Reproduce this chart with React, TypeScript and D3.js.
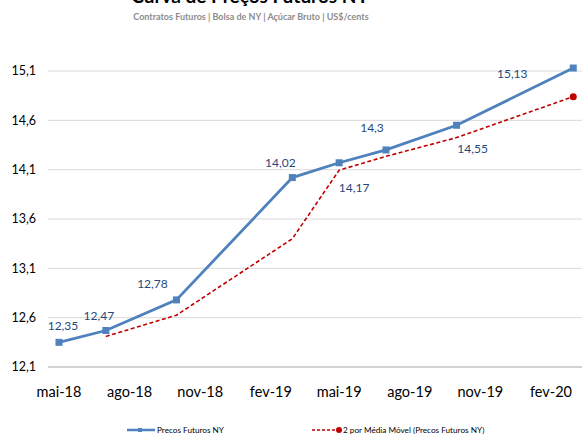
import React from "react";
import * as d3 from "d3";

// contract months (sugar #11: Mar, May, Jul, Oct)
const contratos = ["2018-05", "2018-07", "2018-10", "2019-03", "2019-05", "2019-07", "2019-10", "2020-03"];
const precos = [12.35, 12.47, 12.78, 14.02, 14.17, 14.3, 14.55, 15.13];
// moving average (2 periods), starts at second contract
const mediaMovel = [null, 12.41, 12.625, 13.4, 14.095, 14.235, 14.425, 14.84];
const yTicks = [12.1, 12.6, 13.1, 13.6, 14.1, 14.6, 15.1];
const xTicks = ["2018-05", "2018-08", "2018-11", "2019-02", "2019-05", "2019-08", "2019-11", "2020-02"];
const mesesPt = ["jan", "fev", "mar", "abr", "mai", "jun", "jul", "ago", "set", "out", "nov", "dez"];

// where each data label sits relative to its point
const labelOffsets: [number, number][] = [
  [4, -17], [-7, -15], [-24, -16], [-12, -15], [15, 25], [-14, -22], [16, 24], [-61, 6],
];

const parse = d3.timeParse("%Y-%m");
const fmtNum = (v: number) => String(v).replace(".", ",");
const fmtTick = (d: Date) => `${mesesPt[d.getMonth()]}-${String(d.getFullYear()).slice(2)}`;

export default function App() {
  const width = 582;
  const height = 436;
  const font = "Lato, 'Open Sans', sans-serif";

  const x = d3
    .scaleTime()
    .domain([parse("2018-05")!, parse("2020-02")!])
    .range([59, 551]);
  const y = d3.scaleLinear().domain([12.1, 15.1]).range([367, 71]);

  const pts = contratos.map((c, i) => ({ date: parse(c)!, v: precos[i], m: mediaMovel[i] }));

  const line = d3
    .line<{ date: Date; v: number }>()
    .x((d) => x(d.date))
    .y((d) => y(d.v));

  const maLine = d3
    .line<{ date: Date; m: number | null }>()
    .defined((d) => d.m != null)
    .x((d) => x(d.date))
    .y((d) => y(d.m as number));

  const last = pts[pts.length - 1];

  return (
    <svg
      width={width}
      height={height}
      style={{ position: "absolute", left: 0, top: 0, background: "white", fontFamily: font }}
    >
      {/* title is partly above the visible area, as in the original */}
      <text x={250} y={3} textAnchor="middle" fontSize={19} fontWeight="bold" fill="#000">
        Curva de Preços Futuros NY
      </text>
      <text x={251} y={20} textAnchor="middle" fontSize={9} fontWeight="bold" fill="#8c8c8c">
        Contratos Futuros | Bolsa de NY | Açúcar Bruto | US$/cents
      </text>

      {yTicks.map((t) => (
        <g key={t}>
          <line
            x1={48}
            x2={width}
            y1={y(t)}
            y2={y(t)}
            stroke={t === 12.1 ? "#a6a6a6" : "#d9d9d9"}
            strokeWidth={1}
          />
          <text x={36} y={y(t)} dy="0.35em" textAnchor="end" fontSize={12.5} fill="#000">
            {fmtNum(t)}
          </text>
        </g>
      ))}

      {xTicks.map((t) => {
        const d = parse(t)!;
        return (
          <text key={t} x={x(d)} y={397} textAnchor="middle" fontSize={14.5} fill="#000">
            {fmtTick(d)}
          </text>
        );
      })}

      <path d={maLine(pts) || ""} fill="none" stroke="#c00000" strokeWidth={1.6} strokeDasharray="4,2.5" />
      <circle cx={x(last.date)} cy={y(last.m as number)} r={3.5} fill="#c00000" />

      <path d={line(pts) || ""} fill="none" stroke="#4f81bd" strokeWidth={2.8} />
      {pts.map((d, i) => (
        <rect key={i} x={x(d.date) - 3.5} y={y(d.v) - 3.5} width={7} height={7} fill="#4f81bd" />
      ))}

      {pts.map((d, i) => (
        <text
          key={"l" + i}
          x={x(d.date) + labelOffsets[i][0]}
          y={y(d.v) + labelOffsets[i][1]}
          dy="0.35em"
          textAnchor="middle"
          fontSize={12}
          fill="#1f497d"
        >
          {fmtNum(d.v)}
        </text>
      ))}

      {/* legend */}
      <g fontSize={8.2} fill="#000">
        <line x1={127} x2={155} y1={430} y2={430} stroke="#4f81bd" strokeWidth={2.5} />
        <rect x={138} y={428} width={4} height={4} fill="#4f81bd" />
        <text x={157} y={430} dy="0.35em">Precos Futuros NY</text>
        <line x1={312} x2={339} y1={430} y2={430} stroke="#c00000" strokeWidth={1.5} strokeDasharray="3,2" />
        <circle cx={339} cy={430} r={3} fill="#c00000" />
        <text x={343} y={430} dy="0.35em">2 por Média Móvel (Precos Futuros NY)</text>
      </g>
    </svg>
  );
}
